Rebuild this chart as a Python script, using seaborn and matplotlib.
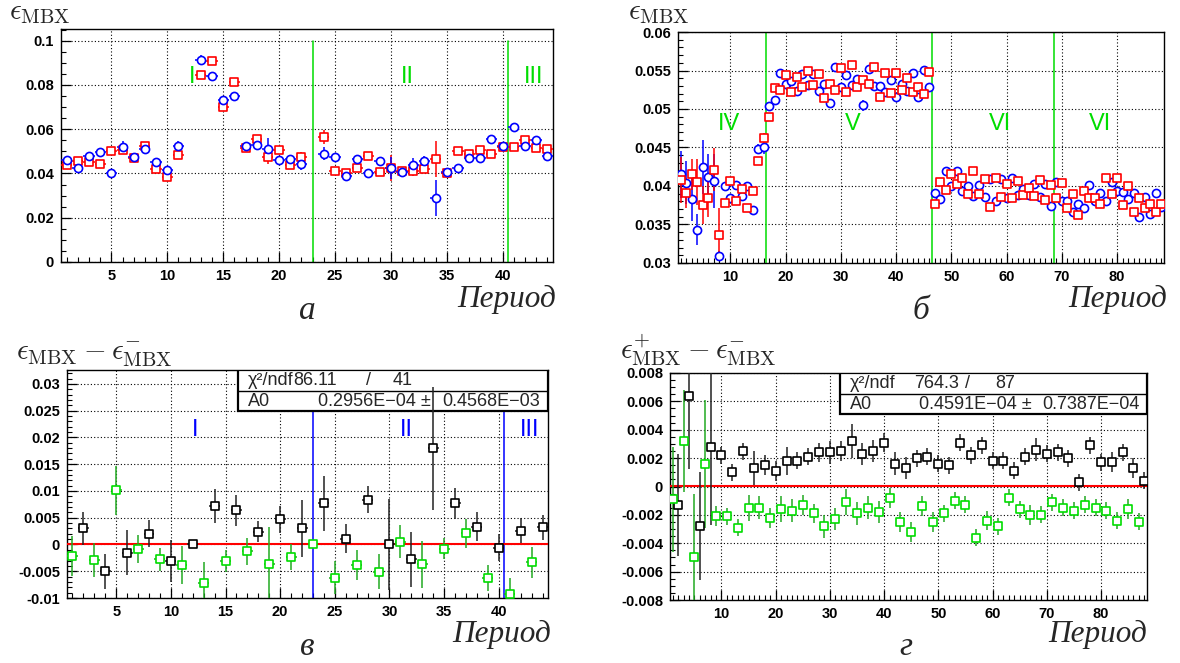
import numpy as np
import pandas as pd
import matplotlib
matplotlib.use("Agg")
import matplotlib.pyplot as plt
import seaborn as sns
from matplotlib.patches import Rectangle
from matplotlib.ticker import MultipleLocator

nan = np.nan

# ---------------- panel a: runs 1..44 ----------------
periods_a = list(range(1, 45))
eps_blue_a = [0.046, 0.0425, 0.048, 0.0495, 0.040, 0.052, 0.0475, 0.051, 0.045, 0.0415,
              0.0525, nan, 0.0915, 0.084, 0.073, 0.075, 0.0525, 0.053, 0.051, 0.046,
              0.0465, 0.0445, nan, 0.049, 0.0475, 0.039, 0.0465, 0.040, 0.0455, 0.0425,
              0.0405, 0.044, 0.0455, 0.029, 0.0405, 0.0425, 0.047, 0.047, 0.0555, 0.0525,
              0.061, 0.0525, 0.055, 0.048]
err_blue_a = [0.0015, 0.0012, 0.0015, 0.0015, 0.002, 0.0025, 0.0012, 0.0012, 0.0012, 0.0012,
              0.002, nan, 0.002, 0.0012, 0.0012, 0.0012, 0.0012, 0.0012, 0.005, 0.0012,
              0.0012, 0.003, nan, 0.003, 0.0012, 0.0012, 0.0012, 0.0012, 0.0012, 0.005,
              0.0012, 0.0028, 0.0025, 0.008, 0.0012, 0.0012, 0.0012, 0.0012, 0.0012, 0.0012,
              0.002, 0.0012, 0.0012, 0.0012]
eps_red_a = [0.044, 0.0455, 0.045, 0.0445, 0.050, 0.0505, 0.047, 0.0525, 0.042, 0.0385,
             0.0485, nan, 0.0845, 0.091, 0.070, 0.0815, 0.0515, 0.0555, 0.0475, 0.0505,
             0.044, 0.0475, nan, 0.0565, 0.041, 0.040, 0.0425, 0.048, 0.0405, 0.0425,
             0.041, 0.041, 0.042, 0.0465, 0.040, 0.050, 0.049, 0.0505, 0.049, 0.052,
             0.052, 0.055, 0.0515, 0.051]
err_red_a = [0.0012, 0.0012, 0.0012, 0.0012, 0.0012, 0.0015, 0.0012, 0.0012, 0.0012, 0.0012,
             0.0012, nan, 0.0012, 0.0012, 0.0012, 0.0012, 0.0012, 0.0012, 0.003, 0.0012,
             0.0012, 0.002, nan, 0.003, 0.0012, 0.0012, 0.0012, 0.0012, 0.0012, 0.006,
             0.0012, 0.002, 0.0012, 0.008, 0.0012, 0.0012, 0.0012, 0.0012, 0.0012, 0.0012,
             0.0012, 0.0012, 0.0012, 0.0012]
bounds_a = [23, 40.5]
labels_a = [(12.2, "I"), (31.5, "II"), (42.8, "III")]

# ---------------- panel b: runs 1..88 ----------------
periods_b = list(range(1, 89))
eps_blue_b = [0.0415, 0.0404, 0.0383, 0.0343, 0.0425, 0.0412, 0.0407, 0.0309, 0.0400, 0.0384,
              0.0401, 0.0387, 0.0400, 0.0369, 0.0448, 0.0450, 0.0504, 0.0512, 0.0547, 0.0533,
              0.0537, 0.0523, 0.0546, 0.0531, 0.0545, 0.0524, 0.0533, 0.0508, 0.0555, 0.0528,
              0.0544, 0.0531, 0.0539, 0.0505, 0.0552, 0.0530, 0.0530, 0.0522, 0.0538, 0.0516,
              0.0533, 0.0524, 0.0547, 0.0516, 0.0550, 0.0528, 0.0391, 0.0383, 0.0420, 0.0400,
              0.0420, 0.0394, 0.0400, 0.0387, 0.0401, 0.0386, 0.0409, 0.0381, 0.0409, 0.0384,
              0.0411, 0.0388, 0.0396, 0.0388, 0.0403, 0.0386, 0.0403, 0.0374, 0.0405, 0.0381,
              0.0381, 0.0366, 0.0377, 0.0372, 0.0401, 0.0381, 0.0391, 0.0381, 0.0405, 0.0394,
              0.0392, 0.0383, 0.0391, 0.0360, 0.0386, 0.0363, 0.0391, 0.0373]
err_blue_b = [0.003, 0.0028, 0.0028, 0.002, 0.0035, 0.003, 0.0035, 0.0006, 0.0004, 0.0004,
              0.0004, 0.0004, 0.0004, 0.0004, 0.0006, 0.0008, 0.0004, 0.0004, 0.0004, 0.0004,
              0.0004, 0.0004, 0.0004, 0.0004, 0.0004, 0.0004, 0.0004, 0.0004, 0.0004, 0.0004,
              0.0004, 0.0004, 0.0004, 0.0007, 0.0004, 0.0004, 0.0004, 0.0004, 0.0004, 0.0004,
              0.0004, 0.0004, 0.0004, 0.0004, 0.0004, 0.0004, 0.0004, 0.0004, 0.0004, 0.0004,
              0.0004, 0.0004, 0.0004, 0.0004, 0.0004, 0.0004, 0.0004, 0.0004, 0.0004, 0.0004,
              0.0004, 0.0004, 0.0004, 0.0004, 0.0004, 0.0004, 0.0004, 0.0004, 0.0004, 0.0004,
              0.0004, 0.0004, 0.0004, 0.0004, 0.0004, 0.0004, 0.0004, 0.0004, 0.0004, 0.0004,
              0.0004, 0.0004, 0.0004, 0.0004, 0.0004, 0.0004, 0.0004, 0.0004]
eps_red_b = [0.0408, 0.0391, 0.0415, 0.0405, 0.0375, 0.0385, 0.0421, 0.0337, 0.0378, 0.0406,
             0.0380, 0.0396, 0.0371, 0.0394, 0.0433, 0.0462, 0.0490, 0.0527, 0.0525, 0.0544,
             0.0522, 0.0541, 0.0528, 0.0549, 0.0531, 0.0546, 0.0514, 0.0532, 0.0525, 0.0553,
             0.0522, 0.0557, 0.0528, 0.0538, 0.0533, 0.0554, 0.0516, 0.0547, 0.0521, 0.0547,
             0.0525, 0.0540, 0.0522, 0.0528, 0.0519, 0.0548, 0.0376, 0.0405, 0.0395, 0.0416,
             0.0402, 0.0411, 0.0390, 0.0419, 0.0389, 0.0409, 0.0373, 0.0411, 0.0386, 0.0403,
             0.0384, 0.0407, 0.0388, 0.0398, 0.0387, 0.0408, 0.0382, 0.0401, 0.0384, 0.0404,
             0.0371, 0.0389, 0.0362, 0.0393, 0.0385, 0.0384, 0.0377, 0.0411, 0.0389, 0.0411,
             0.0375, 0.0400, 0.0366, 0.0384, 0.0371, 0.0377, 0.0366, 0.0377]
err_red_b = [0.003, 0.002, 0.002, 0.003, 0.0025, 0.0025, 0.0028, 0.0035, 0.0004, 0.0004,
             0.0004, 0.0004, 0.0004, 0.0004, 0.0005, 0.0007, 0.0004, 0.0004, 0.0004, 0.0004,
             0.0004, 0.0004, 0.0004, 0.0004, 0.0004, 0.0004, 0.0004, 0.0004, 0.0004, 0.0004,
             0.0004, 0.0004, 0.0004, 0.0004, 0.0004, 0.0004, 0.0004, 0.0004, 0.0004, 0.0004,
             0.0004, 0.0004, 0.0004, 0.0004, 0.0004, 0.0004, 0.0004, 0.0004, 0.0004, 0.0004,
             0.0004, 0.0004, 0.0004, 0.0004, 0.0004, 0.0004, 0.0004, 0.0004, 0.0004, 0.0004,
             0.0004, 0.0004, 0.0004, 0.0004, 0.0004, 0.0004, 0.0004, 0.0004, 0.0004, 0.0004,
             0.0004, 0.0004, 0.0004, 0.0004, 0.0004, 0.0004, 0.0004, 0.0004, 0.0004, 0.0004,
             0.0004, 0.0004, 0.0004, 0.0004, 0.0004, 0.0004, 0.0004, 0.0004]
bounds_b = [16.5, 46.5, 68.5]
labels_b = [(9.8, "IV"), (32.2, "V"), (58.8, "VI"), (76.9, "VI")]

# ---------------- panel c: differences, runs 1..44 ----------------
periods_c_black = list(range(2, 45, 2))
diff_black_c = [0.003, -0.005, -0.0015, 0.002, -0.0031, 0.0, 0.0072, 0.0064, 0.0024, 0.0047,
                0.003, 0.0077, 0.0011, 0.0084, 0.0, -0.0028, 0.018, 0.0077, 0.0033, -0.0006,
                0.0026, 0.0032]
err_black_c = [0.0031, 0.0033, 0.0042, 0.0025, 0.0039, 0.0, 0.0032, 0.0029, 0.0019, 0.0025,
               0.0053, 0.0051, 0.0027, 0.0025, 0.0085, 0.0052, 0.0115, 0.0029, 0.0027, 0.0025,
               0.0023, 0.0023]
periods_c_green = list(range(1, 44, 2))
diff_green_c = [-0.0021, -0.0029, 0.0101, -0.0008, -0.0028, -0.0038, -0.0072, -0.0031, -0.0013, -0.0036,
                -0.0023, 0.0, -0.0062, -0.0038, -0.0051, 0.0005, -0.0037, -0.0008, 0.0021, -0.0062,
                -0.0092, -0.0033]
err_green_c = [0.0037, 0.0032, 0.0045, 0.0026, 0.0021, 0.0036, 0.004, 0.002, 0.0025, 0.0069,
               0.0024, 0.0, 0.0031, 0.0028, 0.0033, 0.0031, 0.0044, 0.002, 0.0027, 0.0024,
               0.0029, 0.0029]
fit_a0_c = 0.2956e-4

# ---------------- panel d: differences, runs 1..88 ----------------
periods_d_black = list(range(2, 89, 2))
diff_black_d = [-0.0013, 0.0064, -0.0028, 0.0028, 0.0022, 0.0010, 0.0025, 0.0013, 0.0015, 0.0011,
                0.0018, 0.0018, 0.0021, 0.0024, 0.0024, 0.0025, 0.0032, 0.0023, 0.0025, 0.0031,
                0.0016, 0.0013, 0.0020, 0.0021, 0.0016, 0.0015, 0.0031, 0.0022, 0.0029, 0.0018,
                0.0018, 0.0011, 0.0021, 0.0026, 0.0023, 0.0024, 0.0020, 0.0003, 0.0029, 0.0017,
                0.0017, 0.0024, 0.0013, 0.0004]
err_black_d = [0.0036, 0.0052, 0.0038, 0.0055, 0.0006, 0.0006, 0.0006, 0.0012, 0.0007, 0.0007,
               0.0010, 0.0006, 0.0006, 0.0007, 0.0008, 0.0007, 0.0012, 0.0008, 0.0008, 0.0007,
               0.0008, 0.0008, 0.0006, 0.0006, 0.0006, 0.0006, 0.0006, 0.0006, 0.0006, 0.0006,
               0.0006, 0.0006, 0.0006, 0.0008, 0.0006, 0.0006, 0.0006, 0.0006, 0.0006, 0.0006,
               0.0007, 0.0006, 0.0007, 0.0006]
periods_d_green = list(range(1, 88, 2))
diff_green_d = [-0.0009, 0.0032, -0.0050, 0.0016, -0.0021, -0.0021, -0.0029, -0.0015, -0.0015, -0.0022,
                -0.0016, -0.0017, -0.0013, -0.0019, -0.0028, -0.0023, -0.0011, -0.0019, -0.0015, -0.0018,
                -0.0008, -0.0025, -0.0032, -0.0014, -0.0025, -0.0019, -0.0010, -0.0013, -0.0036, -0.0024,
                -0.0028, -0.0008, -0.0016, -0.0020, -0.0020, -0.0011, -0.0015, -0.0017, -0.0013, -0.0015,
                -0.0017, -0.0024, -0.0016, -0.0025]
err_green_d = [0.0037, 0.0036, 0.0045, 0.0045, 0.0007, 0.0006, 0.0006, 0.0009, 0.0008, 0.0007,
               0.0009, 0.0008, 0.0007, 0.0007, 0.0008, 0.0008, 0.0009, 0.0008, 0.0008, 0.0008,
               0.0007, 0.0007, 0.0007, 0.0007, 0.0007, 0.0006, 0.0006, 0.0006, 0.0006, 0.0007,
               0.0006, 0.0006, 0.0006, 0.0007, 0.0006, 0.0006, 0.0006, 0.0006, 0.0006, 0.0006,
               0.0006, 0.0006, 0.0007, 0.0006]
fit_a0_d = 0.4591e-4

# ---------------- style ----------------
sns.set_theme(style="ticks")
plt.rcParams["font.family"] = ["Liberation Sans", "DejaVu Sans"]
plt.rcParams["mathtext.fontset"] = "cm"

BLUE = "#0000ff"
RED = "#ff0000"
GREEN = "#00dd00"
GREEN_BAR = "#22aa22"

W, H = 1180, 663
fig = plt.figure(figsize=(W / 100, H / 100), dpi=100)


def box(l, t, r, b):
    return [l / W, 1 - b / H, (r - l) / W, (b - t) / H]


def draw_series(ax, x, y, err, color, marker, size, face, bar_color=None):
    df = pd.DataFrame({"period": x, "value": y, "err": err}).dropna()
    ax.errorbar(df["period"], df["value"], yerr=df["err"], xerr=0.5, fmt="none",
                ecolor=bar_color or color, elinewidth=1.1, capsize=0, zorder=4)
    sns.scatterplot(data=df, x="period", y="value", ax=ax, marker=marker, s=size,
                    facecolor=face, edgecolor=color, linewidth=1.2, zorder=5, legend=False)


def style_axes(ax, xlim, ylim, xmajor, ymajor, yminor):
    ax.set_xlim(*xlim)
    ax.set_ylim(*ylim)
    ax.xaxis.set_major_locator(MultipleLocator(xmajor))
    ax.xaxis.set_minor_locator(MultipleLocator(1))
    ax.yaxis.set_major_locator(MultipleLocator(ymajor))
    ax.yaxis.set_minor_locator(MultipleLocator(yminor))
    xt = [t for t in ax.get_xticks() if xlim[0] <= t <= xlim[1]]
    yt = [t for t in ax.get_yticks() if ylim[0] - 1e-9 <= t <= ylim[1] + 1e-9]
    ax.set_xticks(xt)
    ax.set_xticklabels(["%g" % round(t, 6) for t in xt], fontweight="bold", fontsize=10.5)
    ax.set_yticks(yt)
    ax.set_yticklabels(["%g" % round(t, 6) for t in yt], fontweight="bold", fontsize=10.5)
    ax.set_xlim(*xlim)
    ax.set_ylim(*ylim)
    ax.tick_params(which="both", direction="in", top=False, right=False, colors="black")
    ax.tick_params(which="major", length=7, width=0.9, pad=5)
    ax.tick_params(which="minor", length=3.5, width=0.8)
    ax.grid(True, which="major", linestyle=(0, (1, 2)), color="black", linewidth=0.8)
    ax.set_axisbelow(True)
    for s in ax.spines.values():
        s.set_color("black")
        s.set_linewidth(1.0)
    ax.set_xlabel("")
    ax.set_ylabel("")


def stat_box(ax, x0, y0, ydiv, chi_vals, a0_vals, cols):
    ax.add_patch(Rectangle((x0, y0), 1 - x0, 1 - y0, transform=ax.transAxes,
                           facecolor="white", edgecolor="black", linewidth=1.6, zorder=3))
    ax.plot([x0, 1], [ydiv, ydiv], transform=ax.transAxes, color="black", lw=1.0, zorder=3)
    y1 = (1 + ydiv) / 2
    y2 = (ydiv + y0) / 2
    kw = dict(transform=ax.transAxes, fontsize=13, va="center", zorder=6)
    ax.text(cols[0], y1, "χ²/ndf", ha="left", **kw)
    ax.text(cols[1], y1, chi_vals[0], ha="left", **kw)
    ax.text(cols[2], y1, "/", ha="center", **kw)
    ax.text(cols[3], y1, chi_vals[1], ha="left", **kw)
    ax.text(cols[0], y2, "A0", ha="left", **kw)
    ax.text(cols[4], y2, a0_vals[0] + " ±", ha="left", **kw)
    ax.text(cols[5], y2, a0_vals[1], ha="left", **kw)


def corner_texts(title, title_xy, per_xy, cap, cap_xy):
    fig.text(title_xy[0] / W, 1 - title_xy[1] / H, title, fontsize=21, ha="left", va="baseline")
    fig.text(per_xy[0] / W, 1 - per_xy[1] / H, "Период", family="Liberation Serif",
             style="italic", fontsize=22.5, ha="right", va="baseline")
    fig.text(cap_xy[0] / W, 1 - cap_xy[1] / H, cap, family="Liberation Serif",
             style="italic", fontsize=24, ha="center", va="baseline")


# ---------------- panel a ----------------
ax_a = fig.add_axes(box(61, 29, 553, 262))
for b in bounds_a:
    ax_a.plot([b, b], [0, 0.1], color=GREEN, lw=1.1, zorder=2)
draw_series(ax_a, periods_a, eps_red_a, err_red_a, RED, "s", 38, "white")
draw_series(ax_a, periods_a, eps_blue_a, err_blue_a, BLUE, "o", 34, "white")
for x, s in labels_a:
    ax_a.text(x, 0.0836, s, color=GREEN, fontsize=17, ha="center", va="center")
style_axes(ax_a, (0.5, 44.5), (0, 0.1053), 5, 0.02, 0.005)
corner_texts(r"$\epsilon_{\mathrm{MBX}}$", (9, 19), (556, 307), "а", (307, 319))

# ---------------- panel b ----------------
ax_b = fig.add_axes(box(678, 32, 1164, 263))
for b in bounds_b:
    ax_b.axvline(b, color=GREEN, lw=1.1, zorder=2)
draw_series(ax_b, periods_b, eps_blue_b, err_blue_b, BLUE, "o", 34, "white")
draw_series(ax_b, periods_b, eps_red_b, err_red_b, RED, "s", 38, "white")
for x, s in labels_b:
    ax_b.text(x, 0.0481, s, color=GREEN, fontsize=17, ha="center", va="center")
style_axes(ax_b, (0.5, 88.5), (0.03, 0.06), 10, 0.005, 0.001)
corner_texts(r"$\epsilon_{\mathrm{MBX}}$", (628, 19), (1167, 307), "б", (921, 319))

# ---------------- panel c ----------------
ax_c = fig.add_axes(box(67, 370, 548, 598))
for b in bounds_a:
    ax_c.axvline(b, color=BLUE, lw=1.1, zorder=2)
ax_c.axhline(fit_a0_c, color=RED, lw=1.5, zorder=3.5)
draw_series(ax_c, periods_c_black, diff_black_c, err_black_c, "black", "s", 38, "white", "#222222")
draw_series(ax_c, periods_c_green, diff_green_c, err_green_c, GREEN, "s", 38, "white", GREEN_BAR)
for x, s in labels_a:
    ax_c.text(x, 0.0213, s, color=BLUE, fontsize=17, ha="center", va="center")
stat_box(ax_c, 0.355, 0.82, 0.908, ("86.11", "41"), ("0.2956E−04", "0.4568E−03"),
         (0.376, 0.470, 0.626, 0.678, 0.522, 0.780))
style_axes(ax_c, (0.5, 44.5), (-0.01, 0.0326), 5, 0.005, 0.001)
corner_texts(r"$\epsilon_{\mathrm{MBX}} - \epsilon^{-}_{\mathrm{MBX}}$", (16, 359), (551, 642), "в", (307, 655))

# ---------------- panel d ----------------
ax_d = fig.add_axes(box(670, 373, 1147, 600))
ax_d.axhline(fit_a0_d, color=RED, lw=1.5, zorder=3.5)
draw_series(ax_d, periods_d_black, diff_black_d, err_black_d, "black", "s", 38, "white", "#222222")
draw_series(ax_d, periods_d_green, diff_green_d, err_green_d, GREEN, "s", 38, "white", GREEN_BAR)
stat_box(ax_d, 0.356, 0.819, 0.907, ("764.3", "87"), ("0.4591E−04", "0.7387E−04"),
         (0.377, 0.512, 0.623, 0.681, 0.522, 0.780))
style_axes(ax_d, (0.5, 88.5), (-0.008, 0.008), 10, 0.002, 0.0005)
corner_texts(r"$\epsilon^{+}_{\mathrm{MBX}} - \epsilon^{-}_{\mathrm{MBX}}$", (620, 359), (1147, 642), "г", (906, 655))

fig.savefig("out.png", dpi=100, facecolor="white")
